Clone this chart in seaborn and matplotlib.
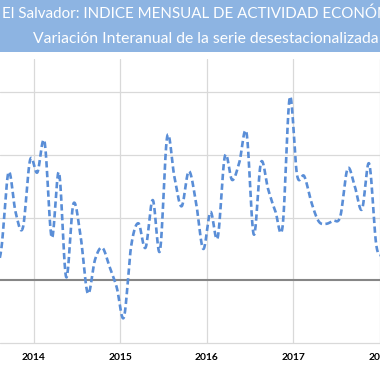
import numpy as np
import pandas as pd
import seaborn as sns
import matplotlib.pyplot as plt
import matplotlib.transforms as mtransforms
from matplotlib.patches import Rectangle

# ---- data ----
months = pd.date_range("2013-07-01", "2018-01-01", freq="MS")
yoy = [0.10, 0.49, 1.72, 1.08, 0.84, 1.92, 1.72, 2.21, 0.68, 1.72, 0.05, 1.22,
       0.70, -0.21, 0.33, 0.52, 0.22, -0.11, -0.59, 0.54, 0.91, 0.52, 1.28, 0.47,
       2.29, 1.65, 1.18, 1.74, 1.24, 0.50, 1.09, 0.68, 1.98, 1.60, 1.88, 2.35,
       0.73, 1.88, 1.45, 1.10, 0.86, 2.92, 1.68, 1.66, 1.24, 0.94, 0.90, 0.95,
       1.02, 1.78, 1.50, 1.13, 1.86, 0.55, 0.40]
year_ticks = [2014, 2015, 2016, 2017, 2018]
title1 = "El Salvador: INDICE MENSUAL DE ACTIVIDAD ECONÓMICA (IVAE)"
title2 = "Variación Interanual de la serie desestacionalizada (%)"

# month positions (category centred between ticks)
xpos = np.array([m.year + (m.month - 1) / 12 + 1 / 24 for m in months])
vals = np.array(yoy, dtype=float)

# smooth line rendering (Catmull-Rom, like a spreadsheet "smoothed line")
def catmull_rom(x, y, n=20):
    xs, ys = [], []
    P = np.column_stack([x, y])
    P = np.vstack([2 * P[0] - P[1], P, 2 * P[-1] - P[-2]])
    for i in range(1, len(P) - 2):
        p0, p1, p2, p3 = P[i - 1], P[i], P[i + 1], P[i + 2]
        t = np.linspace(0, 1, n, endpoint=False)[:, None]
        m1 = (p2 - p0) / 2
        m2 = (p3 - p1) / 2
        h00 = 2 * t**3 - 3 * t**2 + 1
        h10 = t**3 - 2 * t**2 + t
        h01 = -2 * t**3 + 3 * t**2
        h11 = t**3 - t**2
        seg = h00 * p1 + h10 * m1 + h01 * p2 + h11 * m2
        xs.append(seg[:, 0]); ys.append(seg[:, 1])
    xs.append([P[-2][0]]); ys.append([P[-2][1]])
    return np.concatenate(xs), np.concatenate(ys)

sx, sy = catmull_rom(xpos, vals)
curve = pd.DataFrame({"x": sx, "y": sy})

sns.set_style("white")
plt.rcParams['font.family'] = ['Lato', 'DejaVu Sans']

W = H = 380
fig = plt.figure(figsize=(3.8, 3.8), dpi=100)
ax = fig.add_axes([0, (H - 343) / H, 1, (343 - 59) / H])

ax.set_xlim(2014 - 34 / 87.3, 2014 + 346 / 87.3)
ax.set_ylim(-1, (281 - 59) / 62.9)

for yv in [-1, 1, 2, 3]:
    ax.axhline(yv, color="#D9D9D9", lw=0.9, zorder=1, clip_on=False)
for xv in year_ticks:
    ax.axvline(xv, color="#D9D9D9", lw=0.9, zorder=1)
ax.axhline(0, color="#868686", lw=1.5, zorder=2)

sns.lineplot(data=curve, x="x", y="y", ax=ax, sort=False, estimator=None,
             color="#5A8ED7", linewidth=1.9, linestyle=(0, (2.4, 1.3)), zorder=3)

ax.set_xticks(year_ticks)
ax.set_xticklabels([str(y) for y in year_ticks], fontweight="bold", fontsize=7.4,
                   color="black")
shift = mtransforms.ScaledTranslation(2.5 / 100, 0, fig.dpi_scale_trans)
for lab in ax.get_xticklabels():
    lab.set_transform(lab.get_transform() + shift)
ax.set_yticks([])
ax.set_xlabel(""); ax.set_ylabel("")
ax.tick_params(axis="x", length=0, pad=7)
for s in ax.spines.values():
    s.set_visible(False)

# title bar
fig.patches.append(Rectangle((0, 1 - 52.3 / H), 1, 52.3 / H, transform=fig.transFigure,
                             facecolor="#8DB4E2", edgecolor="none", zorder=5))

renderer = fig.canvas.get_renderer()
def fitted_text(full, prefix, x0, baseline, target_w):
    tmp = fig.text(0, 0, prefix, fontsize=10)
    w = tmp.get_window_extent(renderer).width
    tmp.remove()
    fs = 10 * target_w / w
    fig.text(x0 / W, 1 - baseline / H, full, fontsize=fs, color="white",
             ha="left", va="baseline", zorder=6)

fitted_text(title1, "El Salvador: INDICE MENSUAL DE ACTIVIDAD ECON", 2, 17.3, 360)
fitted_text(title2, "Variación Interanual de la serie desestacionalizad", 33, 42.3, 337)

fig.savefig("out.png", dpi=100)
